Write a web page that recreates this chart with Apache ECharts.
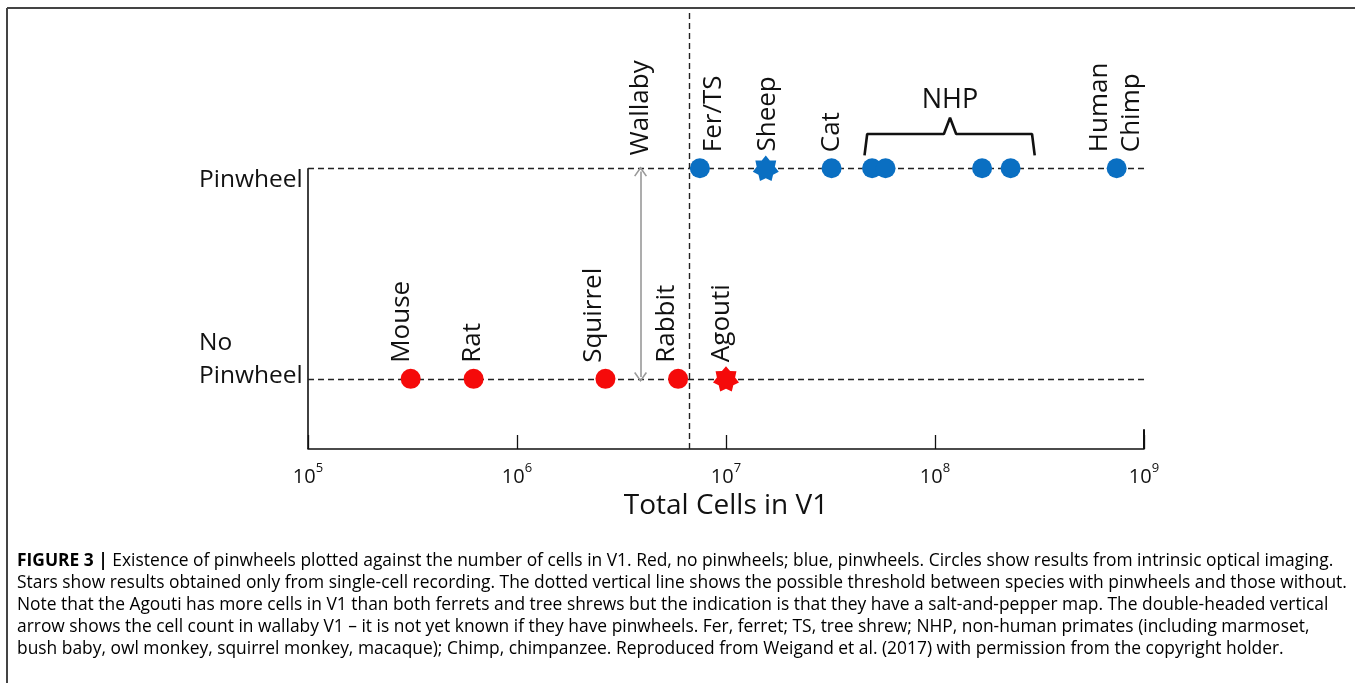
<!DOCTYPE html>
<html>
<head>
<meta charset="utf-8">
<script src="https://cdn.jsdelivr.net/npm/echarts@6/dist/echarts.min.js"></script>
<style>
html,body{margin:0;padding:0;background:#fff;}
#chart{width:1355px;height:683px;}
</style>
</head>
<body>
<div id="chart"></div>
<script>
// ---- data ----
const noPinNames = ['Mouse', 'Rat', 'Squirrel', 'Rabbit', 'Agouti'];
const noPinCells = [3.1e5, 6.2e5, 2.65e6, 5.9e6, 1.0e7];
const noPinMethod = ['optical', 'optical', 'optical', 'optical', 'single-cell'];

const pinNames = ['Fer/TS', 'Sheep', 'Cat', 'NHP', 'NHP', 'NHP', 'NHP', 'Human\nChimp'];
const pinCells = [7.5e6, 1.55e7, 3.2e7, 5.0e7, 5.8e7, 1.68e8, 2.3e8, 7.4e8];
const pinMethod = ['optical', 'single-cell', 'optical', 'optical', 'optical', 'optical', 'optical', 'optical'];

const wallabyCells = 3.9e6;
const thresholdCells = 6.7e6;
const nhpRange = [4.6e7, 3.0e8];
const nhpCenter = 1.18e8;

const yCategories = { pinwheel: 1, noPinwheel: 0.25 };
const yLabels = ['No\nPinwheel', 'Pinwheel'];

const caption = [
  ['FIGURE 3 | ', 'Existence of pinwheels plotted against the number of cells in V1. Red, no pinwheels; blue, pinwheels. Circles show results from intrinsic optical imaging.'],
  ['', 'Stars show results obtained only from single-cell recording. The dotted vertical line shows the possible threshold between species with pinwheels and those without.'],
  ['', 'Note that the Agouti has more cells in V1 than both ferrets and tree shrews but the indication is that they have a salt-and-pepper map. The double-headed vertical'],
  ['', 'arrow shows the cell count in wallaby V1 \u2013 it is not yet known if they have pinwheels. Fer, ferret; TS, tree shrew; NHP, non-human primates (including marmoset,'],
  ['', 'bush baby, owl monkey, squirrel monkey, macaque); Chimp, chimpanzee. Reproduced from {link|Weigand et al. (2017)} with permission from the copyright holder.']
];

// ---- styling helpers ----
const RED = '#f50a0a';
const BLUE = '#0a6fc2';
const FONT = 'Open Sans';
const CLEAR = 'rgba(0,0,0,0)';

function starPath(n, inner) {
  const pts = [];
  for (let i = 0; i < 2 * n; i++) {
    const a = -Math.PI / 2 + i * Math.PI / n;
    const r = i % 2 ? inner : 1;
    pts.push((50 + 50 * r * Math.cos(a)).toFixed(2) + ',' + (50 + 50 * r * Math.sin(a)).toFixed(2));
  }
  return 'path://M' + pts.join(' L') + ' Z';
}
const STAR = starPath(7, 0.7);
const CHEVRON = 'path://M50,0 L100,72 L90,78 L50,20 L10,78 L0,72 Z';

const noPinLabelDx = { 'Mouse': -9, 'Rat': -1, 'Squirrel': -12, 'Rabbit': -12, 'Agouti': -4 };
const pinLabelDx = { 'Fer/TS': 14, 'Sheep': 2, 'Cat': 0, 'Human\nChimp': -1 };

function buildData(names, cells, methods, yVal, dxMap) {
  return names.map((nm, i) => {
    const isStar = methods[i] === 'single-cell';
    const sz = isStar ? 26 : 20;
    const show = nm in dxMap;
    return {
      name: nm,
      value: [cells[i], yVal],
      symbol: isStar ? STAR : 'circle',
      symbolSize: sz,
      label: show ? {
        show: true,
        formatter: nm,
        rotate: 90,
        align: 'left',
        verticalAlign: 'middle',
        position: [sz / 2 + dxMap[nm], isStar ? -4 : -6],
        fontFamily: FONT,
        fontSize: 26,
        lineHeight: 32,
        color: '#111'
      } : { show: false }
    };
  });
}

const dashStyle = { color: '#222', type: [6, 4], width: 1.4 };

const chart = echarts.init(document.getElementById('chart'), null, { renderer: 'canvas' });

const option = {
  animation: false,
  backgroundColor: '#fff',
  grid: { left: 308, right: 211, top: 11, bottom: 234, containLabel: false },
  xAxis: {
    type: 'log',
    logBase: 10,
    min: 1e5,
    max: 1e9,
    interval: 1,
    axisLine: { show: true, lineStyle: { color: '#111', width: 1.6 } },
    axisTick: { show: true, inside: true, length: 14, lineStyle: { color: '#111', width: 1.3 } },
    splitLine: { show: false },
    minorTick: { show: false },
    axisLabel: {
      margin: 13,
      formatter: v => '{b|10}{s|' + Math.round(Math.log10(v)) + '}',
      rich: {
        b: { fontFamily: FONT, fontSize: 20, color: '#111', verticalAlign: 'bottom', lineHeight: 25 },
        s: { fontFamily: FONT, fontSize: 13, color: '#111', verticalAlign: 'top', lineHeight: 25, padding: [0, 0, 10, 0] }
      }
    },
    name: 'Total Cells in V1',
    nameLocation: 'middle',
    nameGap: 42,
    nameTextStyle: { fontFamily: FONT, fontSize: 28, color: '#111' }
  },
  yAxis: {
    type: 'value',
    min: 0,
    max: 1.56,
    show: false
  },
  series: [
    {
      // axis frame, reference lines and the wallaby arrow
      type: 'scatter',
      data: [],
      silent: true,
      markLine: {
        silent: true,
        symbol: 'none',
        animation: false,
        label: { show: false },
        data: [
          [{ coord: [1e5, 0], lineStyle: { color: '#111', type: 'solid', width: 1.6 } }, { coord: [1e5, yCategories.pinwheel] }],
          [{ coord: [1e9, 0], lineStyle: { color: '#111', type: 'solid', width: 2 } }, { coord: [1e9, 0.07] }],
          {
            yAxis: yCategories.pinwheel, lineStyle: dashStyle,
            label: {
              show: true, position: 'start', distance: 5, offset: [0, 12],
              formatter: '{a|' + yLabels[1] + '}',
              rich: { a: { fontFamily: FONT, fontSize: 24.5, color: '#111', width: 104, align: 'left' } }
            }
          },
          {
            yAxis: yCategories.noPinwheel, lineStyle: dashStyle,
            label: {
              show: true, position: 'start', distance: 5, offset: [0, -19],
              formatter: yLabels[0].split('\n').map(t => '{a|' + t + '}').join('\n'),
              rich: { a: { fontFamily: FONT, fontSize: 24.5, lineHeight: 33, color: '#111', width: 104, align: 'left' } }
            }
          },
          { xAxis: thresholdCells, lineStyle: dashStyle },
          [
            { coord: [wallabyCells, yCategories.noPinwheel + 0.006], symbol: CHEVRON, symbolSize: [13, 10],
              lineStyle: { color: '#999', type: 'solid', width: 1.6 } },
            { coord: [wallabyCells, yCategories.pinwheel - 0.012], symbol: CHEVRON, symbolSize: [13, 10] }
          ]
        ]
      }
    },
    {
      name: 'Annotations',
      type: 'scatter',
      silent: true,
      symbolSize: 2,
      itemStyle: { color: CLEAR, opacity: 1 },
      data: [
        {
          value: [wallabyCells, yCategories.pinwheel],
          label: {
            show: true, formatter: 'Wallaby', rotate: 90, align: 'left', verticalAlign: 'middle',
            position: [1, -12], fontFamily: FONT, fontSize: 26, color: '#111', opacity: 1
          }
        },
        {
          value: [nhpCenter, 1.18],
          label: {
            show: true, formatter: 'NHP', position: 'top', distance: 3,
            fontFamily: FONT, fontSize: 27, color: '#111', opacity: 1
          }
        }
      ]
    },
    {
      name: 'NHP bracket',
      type: 'line',
      silent: true,
      symbol: 'none',
      lineStyle: { color: '#111', width: 2.6 },
      data: [
        [nhpRange[0], 1.046],
        [nhpRange[0] * 1.03, 1.122],
        [nhpCenter / 1.07, 1.122],
        [nhpCenter, 1.18],
        [nhpCenter * 1.07, 1.122],
        [nhpRange[1] / 1.03, 1.122],
        [nhpRange[1], 1.046]
      ]
    },
    {
      name: 'No pinwheel',
      type: 'scatter',
      itemStyle: { color: RED, opacity: 1 },
      symbolKeepAspect: true,
      z: 5,
      data: buildData(noPinNames, noPinCells, noPinMethod, yCategories.noPinwheel, noPinLabelDx)
    },
    {
      name: 'Pinwheel',
      type: 'scatter',
      itemStyle: { color: BLUE, opacity: 1 },
      symbolKeepAspect: true,
      z: 5,
      data: buildData(pinNames, pinCells, pinMethod, yCategories.pinwheel, pinLabelDx)
    }
  ],
  graphic: [
    { type: 'line', shape: { x1: 7, y1: 8, x2: 1355, y2: 8 }, style: { stroke: '#444', lineWidth: 2 } },
    { type: 'line', shape: { x1: 7, y1: 8, x2: 7, y2: 683 }, style: { stroke: '#444', lineWidth: 2 } },
    {
      type: 'text',
      left: 17,
      top: 553,
      style: {
        text: caption.map(l => (l[0] ? '{bold|' + l[0] + '}' : '') + '{n|' + l[1].replace('{link|Weigand et al. (2017)}', '}{link|Weigand et al. (2017)}{n|') + '}').join('\n'),
        rich: {
          n: { fontFamily: 'Open Sans', fontSize: 17.4, lineHeight: 22, color: '#333' },
          bold: { fontFamily: 'Open Sans', fontSize: 17.4, lineHeight: 22, color: '#111', fontWeight: 'bold' },
          link: { fontFamily: 'Open Sans', fontSize: 17.4, lineHeight: 22, color: '#8a8a8a' }
        }
      }
    }
  ]
};

chart.setOption(option);
</script>
</body>
</html>
